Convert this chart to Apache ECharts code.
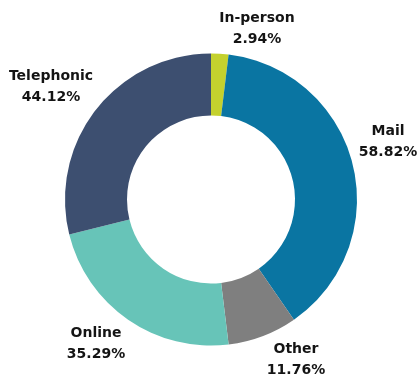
<!DOCTYPE html>
<html>
<head>
<meta charset="utf-8">
<style>
  html, body { margin: 0; padding: 0; background: #ffffff; }
  #chart { width: 420px; height: 376px; }
</style>
<script src="https://cdn.jsdelivr.net/npm/echarts@6/dist/echarts.min.js"></script>
</head>
<body>
<div id="chart"></div>
<script>
// Contact channels, clockwise from 12 o'clock
const categories = ['In-person', 'Mail', 'Other', 'Online', 'Telephonic'];
const shares = [2.94, 58.82, 11.76, 35.29, 44.12];
const colors = ['#c4d12e', '#0a75a2', '#7f7f7f', '#67c4b8', '#3d4f70'];

// Where each two-line label block is centred (pixels)
const labelAnchor = {
  'In-person': [257, 29],
  'Mail': [388, 142],
  'Other': [296, 360],
  'Online': [96, 344],
  'Telephonic': [51, 87]
};

const chart = echarts.init(document.getElementById('chart'), null, { renderer: 'canvas' });

chart.setOption({
  animation: false,
  backgroundColor: '#ffffff',
  series: [{
    type: 'pie',
    center: [211, 199.5],
    radius: [84, 146],
    startAngle: 90,
    clockwise: true,
    avoidLabelOverlap: false,
    silent: true,
    data: categories.map((name, i) => ({
      name: name,
      value: shares[i],
      itemStyle: { color: colors[i] }
    })),
    label: {
      show: true,
      position: 'outside',
      formatter: p => p.name + '\n' + p.value.toFixed(2) + '%',
      fontFamily: 'DejaVu Sans',
      fontWeight: 'bold',
      fontSize: 14,
      lineHeight: 21,
      color: '#141414',
      align: 'center'
    },
    labelLine: { show: false },
    labelLayout: function (params) {
      const name = categories[params.dataIndex];
      const a = labelAnchor[name];
      return { x: a[0], y: a[1], align: 'center', verticalAlign: 'middle' };
    }
  }]
});
</script>
</body>
</html>
